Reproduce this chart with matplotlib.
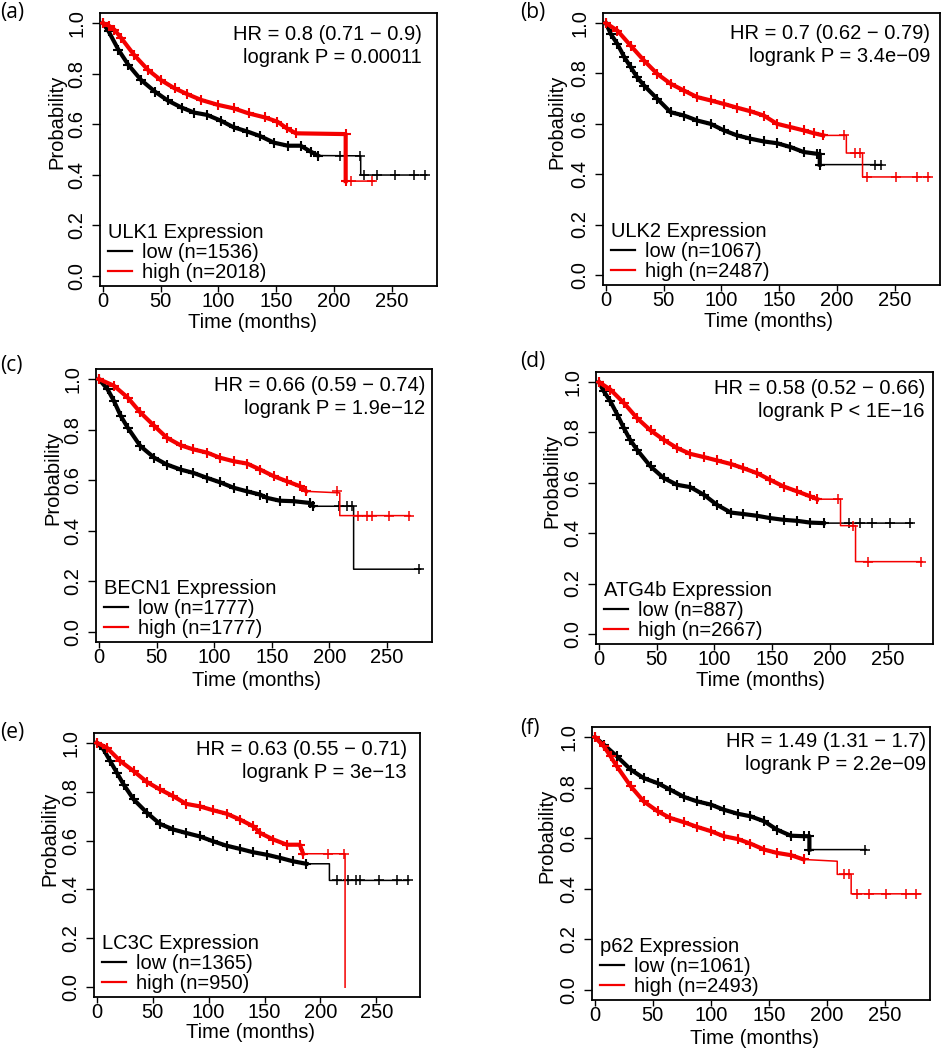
"""
Kaplan-Meier survival curves for six autophagy genes (low vs high expression).
"""
import numpy as np
import matplotlib
matplotlib.use("Agg")
import matplotlib.pyplot as plt
from matplotlib.lines import Line2D

plt.rcParams["font.family"] = ["Liberation Sans", "DejaVu Sans"]

# ---- data ----
panel_tags = ["(a)", "(b)", "(c)", "(d)", "(e)", "(f)"]
genes = ["ULK1", "ULK2", "BECN1", "ATG4b", "LC3C", "p62"]
n_low = [1536, 1067, 1777, 887, 1365, 1061]
n_high = [2018, 2487, 1777, 2667, 950, 2493]
hr_texts = ["HR = 0.8 (0.71 \u2212 0.9)", "HR = 0.7 (0.62 \u2212 0.79)",
            "HR = 0.66 (0.59 \u2212 0.74)", "HR = 0.58 (0.52 \u2212 0.66)",
            "HR = 0.63 (0.55 \u2212 0.71)", "HR = 1.49 (1.31 \u2212 1.7)"]
p_texts = ["logrank P = 0.00011", "logrank P = 3.4e\u221209",
           "logrank P = 1.9e\u221212", "logrank P < 1E\u221216",
           "logrank P = 3e\u221213", "logrank P = 2.2e\u221209"]

# survival knots (months, probability); repeated time = vertical drop
low_t = [
    [0, 5, 13.5, 22, 33, 45, 56, 68, 79, 90, 102, 113, 125, 136, 148, 160, 171, 180, 186, 223, 223, 280],
    [0, 4.3, 10, 16, 21.5, 27, 33, 44.5, 56, 67.5, 79, 90.5, 102, 113.5, 125, 136.5, 148, 159.5, 171, 182.5, 185, 185, 238.5],
    [0, 7.5, 13, 19, 25, 36, 48, 59, 71, 82, 94, 105, 117, 128.5, 140, 146, 157, 169, 183, 186, 221, 221, 279],
    [0, 4.3, 10, 16, 21.6, 27, 33, 44.7, 56, 67.7, 79, 91, 102, 114, 125, 137, 148, 160, 171.5, 183, 194.5, 271],
    [0, 6, 12, 18, 24, 33, 45, 56.5, 68.5, 80, 92, 104, 116, 128, 140, 152, 164, 175.6, 187.5, 208, 208, 279],
    [0, 7.8, 19, 31, 42, 54, 65, 77, 88, 100, 111, 123, 134, 146, 157, 169, 180, 185, 185, 234],
]
low_s = [
    [1.0, 0.967, 0.894, 0.835, 0.775, 0.729, 0.694, 0.666, 0.646, 0.637, 0.614, 0.588, 0.571, 0.553, 0.527, 0.515, 0.515, 0.491, 0.476, 0.475, 0.399, 0.399],
    [1.0, 0.956, 0.917, 0.864, 0.825, 0.785, 0.752, 0.699, 0.646, 0.633, 0.613, 0.6, 0.574, 0.554, 0.541, 0.53, 0.523, 0.508, 0.488, 0.481, 0.48, 0.438, 0.438],
    [1.0, 0.96, 0.914, 0.854, 0.808, 0.735, 0.689, 0.662, 0.642, 0.629, 0.609, 0.592, 0.57, 0.556, 0.543, 0.53, 0.519, 0.517, 0.51, 0.497, 0.497, 0.248, 0.248],
    [1.0, 0.963, 0.923, 0.87, 0.817, 0.771, 0.731, 0.665, 0.619, 0.592, 0.583, 0.552, 0.513, 0.482, 0.476, 0.469, 0.46, 0.453, 0.449, 0.442, 0.44, 0.44],
    [1.0, 0.973, 0.925, 0.877, 0.829, 0.768, 0.713, 0.668, 0.645, 0.631, 0.617, 0.597, 0.579, 0.566, 0.552, 0.542, 0.529, 0.515, 0.505, 0.505, 0.437, 0.437],
    [1.0, 0.97, 0.924, 0.871, 0.838, 0.818, 0.792, 0.763, 0.746, 0.733, 0.713, 0.697, 0.687, 0.667, 0.634, 0.61, 0.608, 0.608, 0.555, 0.555],
]
high_t = [
    [0, 5, 10, 16, 27, 39, 50, 62, 73, 85, 100, 113, 126, 140, 151, 159, 167, 210, 210, 235],
    [0, 10, 21.5, 33, 44.5, 56, 67.5, 79, 90.5, 102, 113.5, 125, 136.5, 148, 159.5, 171, 179.6, 188, 208, 208, 222, 222, 280],
    [0, 13, 25, 36, 48, 59, 71, 82, 94, 105, 117, 128.5, 140, 151.6, 163, 174.6, 180, 209, 209, 270],
    [0, 10, 21.6, 33, 44.7, 56, 67.7, 79, 91, 102, 114, 125, 137, 148, 160, 171.5, 183, 189, 209, 209, 222, 222, 279.5],
    [0, 9, 21, 33, 45, 56.5, 68.5, 80, 92, 104, 116, 128, 140, 146, 158, 170, 181.5, 184.5, 222, 222],
    [0, 7.8, 13.5, 19, 31, 42, 54, 65, 77, 88, 100, 111, 123, 134, 146, 157, 169, 180, 209, 209, 221, 221, 281],
]
high_s = [
    [1.0, 0.99, 0.974, 0.94, 0.874, 0.815, 0.775, 0.742, 0.719, 0.696, 0.676, 0.663, 0.643, 0.627, 0.61, 0.584, 0.564, 0.561, 0.375, 0.375],
    [1.0, 0.97, 0.91, 0.851, 0.798, 0.759, 0.732, 0.706, 0.693, 0.679, 0.664, 0.65, 0.633, 0.6, 0.587, 0.574, 0.563, 0.554, 0.554, 0.484, 0.484, 0.389, 0.389],
    [1.0, 0.974, 0.927, 0.868, 0.815, 0.768, 0.738, 0.722, 0.709, 0.689, 0.675, 0.666, 0.642, 0.616, 0.596, 0.576, 0.556, 0.55, 0.46, 0.46],
    [1.0, 0.97, 0.917, 0.857, 0.808, 0.771, 0.738, 0.715, 0.702, 0.689, 0.675, 0.658, 0.638, 0.612, 0.585, 0.566, 0.546, 0.535, 0.535, 0.43, 0.43, 0.287, 0.287],
    [1.0, 0.98, 0.925, 0.884, 0.839, 0.809, 0.781, 0.75, 0.74, 0.724, 0.71, 0.686, 0.658, 0.631, 0.604, 0.583, 0.583, 0.546, 0.546, 0.0],
    [1.0, 0.963, 0.924, 0.884, 0.805, 0.746, 0.707, 0.68, 0.663, 0.645, 0.628, 0.608, 0.597, 0.579, 0.555, 0.542, 0.533, 0.516, 0.509, 0.457, 0.457, 0.38, 0.38],
]
# end of the heavily censored stretch, and isolated censor times after it
low_dense_end = [200, 200, 205, 205, 203, 200]
high_dense_end = [210, 203, 200, 203, 200, 205]
low_cens = [[205, 222, 226, 237, 253, 269, 279], [233, 238], [208, 215, 220, 278],
            [216, 226, 236, 252, 269], [215, 225, 232, 235, 252, 268, 278], [233]]
high_cens = [[215, 233], [206, 215.5, 220, 226, 251, 269, 279], [207, 225, 233, 237, 252, 269],
             [207, 220, 232.6, 278.5], [207, 221], [215, 219, 226, 236, 251, 268, 277]]

# ---- layout (pixels in a 941x1050 canvas) ----
W, H = 941, 1050
boxes = [(100, 437, 13, 286), (603, 940, 13, 285), (96, 432, 369, 642),
         (596, 933, 372, 644), (94, 420, 733, 997), (592, 930, 727, 1000)]
tag_xy = [(0, 2), (520, 2), (0, 355), (520, 351), (0, 722), (520, 718)]
hr_inset = [(15, 12), (10, 11), (7, 7), (8, 7), (13, 7), (4, 5)]
xlab_xy = [(252, 322), (768, 322), (256, 680), (761, 681), (250, 1033), (754, 1038)]
ylab_x = [57, 557, 53, 552, 50, 547]
leg_x = [104, 607, 100, 600, 98, 596]
RED = "#f40000"


def step_value(ts, ss, c):
    idx = max(i for i, t in enumerate(ts) if t <= c)
    return ss[idx]


def draw_curve(ax, ts, ss, dense_end, cens, color):
    ax.plot(ts, ss, color=color, lw=1.1, zorder=3)
    k = [i for i, t in enumerate(ts) if t <= dense_end]
    dt = [ts[i] for i in k]
    ds = [ss[i] for i in k]
    ax.plot(dt, ds, color=color, lw=3.0, marker="+", ms=6.5, mew=1.5, zorder=3)
    cy = [step_value(ts, ss, c) for c in cens]
    ax.plot(cens, cy, ls="none", color=color, marker="+", ms=7, mew=1.1, zorder=3)


fig = plt.figure(figsize=(W / 100, H / 100), dpi=100)
for i in range(6):
    l, r, t, b = boxes[i]
    ax = fig.add_axes([l / W, 1 - b / H, (r - l) / W, (b - t) / H])
    draw_curve(ax, low_t[i], low_s[i], low_dense_end[i], low_cens[i], "black")
    draw_curve(ax, high_t[i], high_s[i], high_dense_end[i], high_cens[i], RED)

    ax.set_xlim(-2.5, 289)
    ax.set_ylim(-0.04, 1.04)
    ax.set_xticks([0, 50, 100, 150, 200, 250])
    ax.set_yticks([0, 0.2, 0.4, 0.6, 0.8, 1.0])
    ax.set_yticklabels(["0.0", "0.2", "0.4", "0.6", "0.8", "1.0"])
    ax.tick_params(axis="x", length=4, width=1, pad=0.5, labelsize=14.5)
    ax.tick_params(axis="y", length=6, width=1, pad=4, labelsize=14.5)
    for lab in ax.get_yticklabels():
        lab.set_rotation(90)
        lab.set_va("center")
        lab.set_ha("right")
    for sp in ax.spines.values():
        sp.set_linewidth(1.3)

    pw, ph = r - l, b - t
    ax.set_xlabel("Time (months)", fontsize=14.5)
    ax.xaxis.set_label_coords((xlab_xy[i][0] - l) / pw, (b - xlab_xy[i][1]) / ph)
    ax.xaxis.label.set_va("center")
    ax.set_ylabel("Probability", fontsize=14.5)
    ax.yaxis.set_label_coords((ylab_x[i] - l) / pw, 0.6)
    ax.yaxis.label.set_va("center")

    dx, dy = hr_inset[i]
    ax.text(1 - dx / pw, 1 - dy / ph, hr_texts[i], transform=ax.transAxes,
            ha="right", va="top", fontsize=14.5)
    ax.text(1 - dx / pw, 1 - (dy + 23) / ph, p_texts[i], transform=ax.transAxes,
            ha="right", va="top", fontsize=14.5)

    handles = [Line2D([], [], color="black", lw=1.6), Line2D([], [], color=RED, lw=1.6)]
    leg = ax.legend(handles, [f"low (n={n_low[i]})", f"high (n={n_high[i]})"],
                    title=f"{genes[i]} Expression", loc="lower left",
                    bbox_to_anchor=((leg_x[i] - l) / pw, 0.0), frameon=False,
                    fontsize=14.5, title_fontsize=14.5, handlelength=1.2,
                    handletextpad=0.5, labelspacing=0.05, borderpad=0.2,
                    borderaxespad=0.0, alignment="left")

    fig.text(tag_xy[i][0] / W, 1 - tag_xy[i][1] / H, panel_tags[i],
             ha="left", va="top", fontsize=15, family=["Open Sans", "DejaVu Sans"])

fig.savefig("out.png", dpi=100)
